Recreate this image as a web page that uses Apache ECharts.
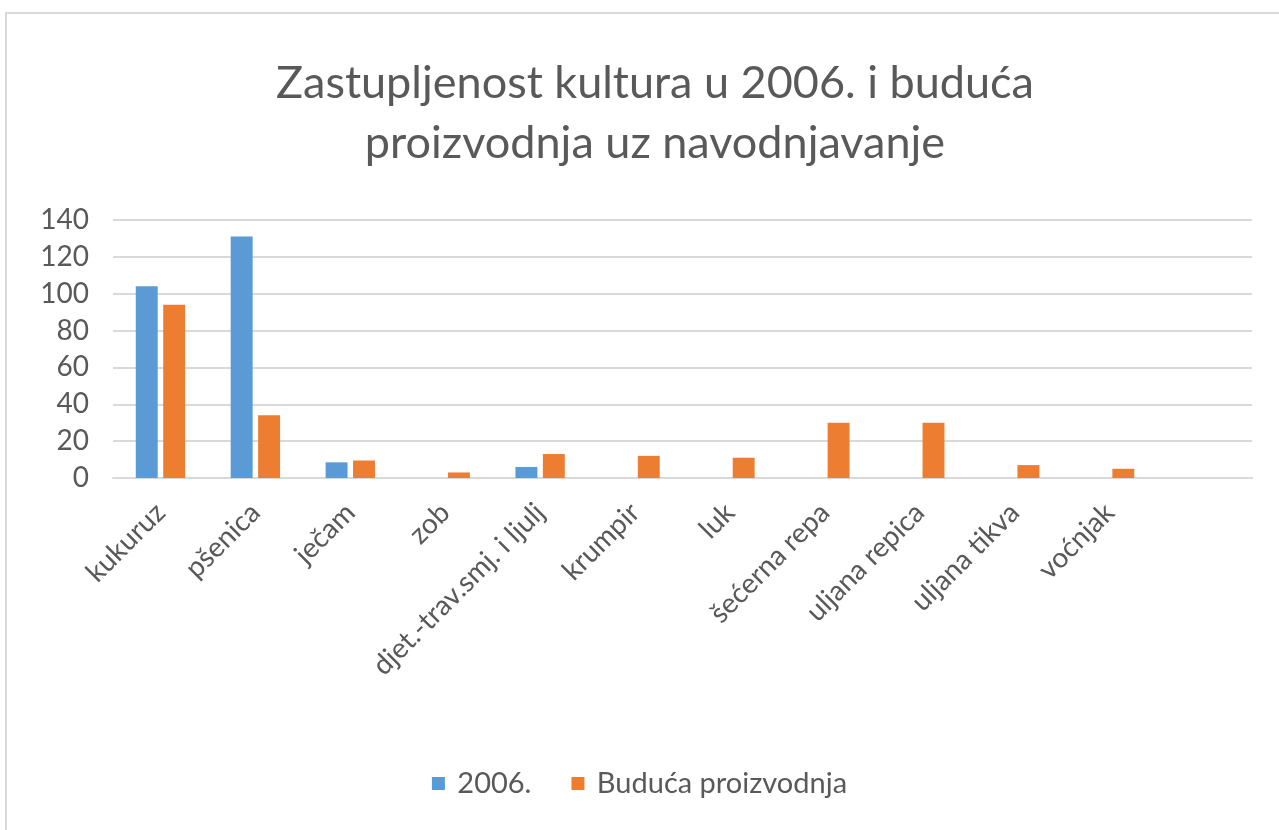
<!DOCTYPE html>
<html>
<head>
<meta charset="utf-8">
<script src="https://cdn.jsdelivr.net/npm/echarts@6/dist/echarts.min.js"></script>
<style>
  html, body { margin: 0; padding: 0; background: #fff; }
  #frame { position: absolute; left: 5px; top: 12px; width: 1290px; height: 830px; border-left: 2px solid #d9d9d9; border-top: 2px solid #d9d9d9; }
  #chart { position: absolute; left: 0; top: 0; width: 1279px; height: 830px; }
</style>
</head>
<body>
<div id="frame"></div>
<div id="chart"></div>
<script>
// kategorije (zadnja je prazna kao u originalu)
const kategorije = ['kukuruz', 'pšenica', 'ječam', 'zob', 'djet.-trav.smj. i ljulj', 'krumpir', 'luk', 'šećerna repa', 'uljana repica', 'uljana tikva', 'voćnjak', ''];
const vrijednosti2006 = [104, 131, 8.5, null, 6, null, null, null, null, null, null, null];
const buducaProizvodnja = [94, 34, 9.5, 3, 13, 12, 11, 30, 30, 7, 5, null];
const nazivi = ['2006.', 'Buduća proizvodnja'];

const font = 'Lato, "Open Sans", sans-serif';
const siva = '#595959';

const grafik = echarts.init(document.getElementById('chart'));
grafik.setOption({
  animation: false,
  textStyle: { fontFamily: font },
  title: {
    text: 'Zastupljenost kultura u 2006. i buduća\nproizvodnja uz navodnjavanje',
    left: 650, textAlign: 'center', top: 48,
    textStyle: { fontSize: 45, fontWeight: 'normal', color: siva, lineHeight: 60, fontFamily: font }
  },
  legend: {
    bottom: 27, left: 'center',
    itemWidth: 13, itemHeight: 13, itemGap: 40,
    icon: 'rect',
    formatter: name => ' ' + name,
    textStyle: { fontSize: 29, color: siva, fontFamily: font },
    data: nazivi
  },
  grid: { left: 113, right: 27, top: 220, bottom: 352 },
  xAxis: {
    type: 'category',
    data: kategorije,
    axisTick: { show: false },
    axisLine: { lineStyle: { color: '#d9d9d9', width: 2 } },
    axisLabel: { rotate: 45, interval: 0, fontSize: 28, color: siva, margin: 30, fontFamily: font }
  },
  yAxis: {
    type: 'value', min: 0, max: 140, interval: 20,
    axisLine: { show: false }, axisTick: { show: false },
    axisLabel: { fontSize: 28, color: siva, margin: 24, fontFamily: font },
    splitLine: { lineStyle: { color: '#d9d9d9', width: 2 } }
  },
  series: [
    { name: nazivi[0], type: 'bar', data: vrijednosti2006, barGap: '25%', barCategoryGap: '48%',
      itemStyle: { color: '#5b9bd5' } },
    { name: nazivi[1], type: 'bar', data: buducaProizvodnja,
      itemStyle: { color: '#ed7d31' } }
  ]
});
</script>
</body>
</html>
